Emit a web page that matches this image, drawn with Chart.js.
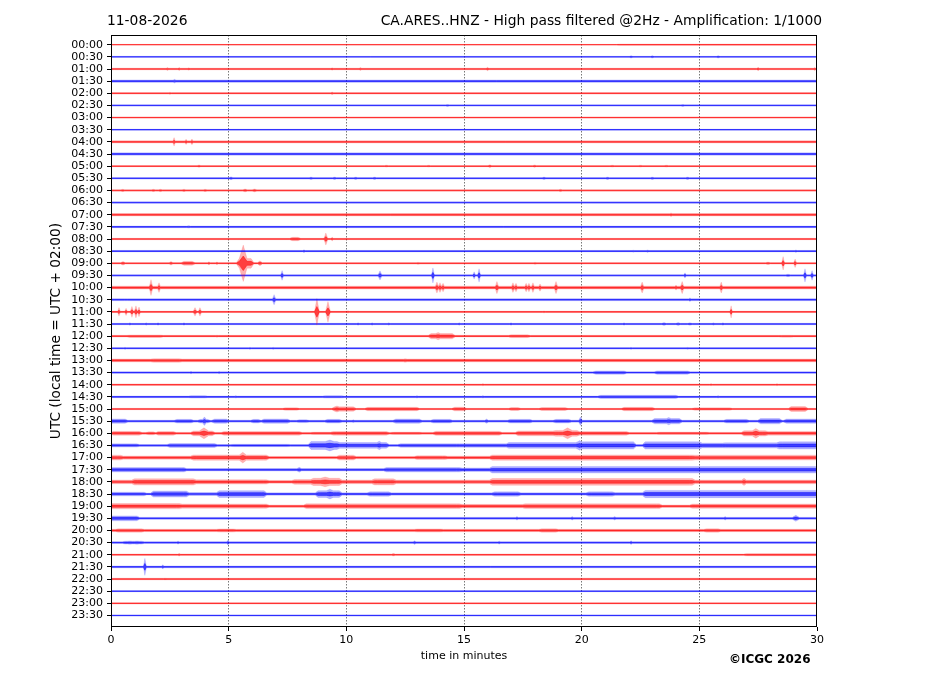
<!DOCTYPE html>
<html><head><meta charset="utf-8">
<script src="https://cdn.jsdelivr.net/npm/chart.js@4.4.1/dist/chart.umd.min.js"></script>
<style>
html,body{margin:0;padding:0;background:#fff;}
#wrap{position:relative;width:927px;height:696px;overflow:hidden;}
canvas{position:absolute;left:0;top:0;}
.t{position:absolute;font-family:"DejaVu Sans";font-size:13.85px;color:#000;white-space:nowrap;line-height:16px;}
</style></head><body>
<div id="wrap">
<canvas id="c" width="927" height="696"></canvas>
<div class="t" style="left:107px;top:12px;">11-08-2026</div>
<div class="t" style="right:105px;top:12px;">CA.ARES..HNZ - High pass filtered @2Hz - Amplification: 1/1000</div>
<div class="t" style="left:729px;top:651px;font-weight:bold;font-size:12px;">©ICGC 2026</div>
</div>
<script>
// Row labels (start time of each 30-minute trace)
const rowLabels = ["00:00","00:30","01:00","01:30","02:00","02:30","03:00","03:30","04:00","04:30","05:00","05:30",
"06:00","06:30","07:00","07:30","08:00","08:30","09:00","09:30","10:00","10:30","11:00","11:30",
"12:00","12:30","13:00","13:30","14:00","14:30","15:00","15:30","16:00","16:30","17:00","17:30",
"18:00","18:30","19:00","19:30","20:00","20:30","21:00","21:30","22:00","22:30","23:00","23:30"];
const xTicks = [0,5,10,15,20,25,30];
// Background noise half-amplitude of each trace (in row spacings)
const rowNoise = [0.03,0.045,0.07,0.1,0.06,0.05,0.045,0.04,0.09,0.1,0.05,0.06,
0.06,0.06,0.1,0.07,0.06,0.06,0.06,0.06,0.12,0.08,0.06,0.06,
0.07,0.06,0.12,0.06,0.06,0.07,0.06,0.08,0.08,0.08,0.1,0.08,
0.1,0.08,0.1,0.07,0.1,0.07,0.06,0.08,0.07,0.05,0.05,0.04];
// Noisy stretches per trace: [start minute, end minute, half-amplitude]
const rowBursts = [
[[21.6,30,0.05]],[],[],[],[],[],[],[],[],[],[],[],
[],[],[],[],[[7.7,7.95,0.14]],[],[[3.1,3.45,0.16],[5.45,5.95,0.4]],[],[],[],[],[],
[[0.8,2.1,0.1],[13.6,14.5,0.22],[17.0,17.7,0.12],[28.5,28.9,0.08]],[],[[1.8,2.9,0.15]],[[20.6,21.8,0.14],[23.2,24.5,0.14]],[],
[[3.4,4.0,0.1],[9.1,9.8,0.1],[20.8,24.0,0.13]],
[[7.4,7.9,0.1],[9.5,10.3,0.18],[10.9,13.0,0.14],[14.6,15.0,0.15],[17.0,17.3,0.12],[18.3,19.3,0.12],[21.8,23.0,0.14],[24.8,26.3,0.1],[28.9,29.5,0.2]],
[[0.03,0.6,0.18],[2.8,3.4,0.15],[3.8,4.1,0.15],[4.4,4.9,0.18],[6.05,6.26,0.15],[6.5,7.5,0.18],[8.0,8.3,0.12],[9.2,9.7,0.15],[12.1,13.1,0.18],[13.7,14.4,0.15],[16.96,17.8,0.15],[18.9,19.45,0.15],[23.1,24.15,0.22],[26.15,27.0,0.15],[27.6,28.4,0.22],[28.7,30,0.18]],
[[0.1,1.2,0.16],[1.6,1.8,0.12],[2.0,2.65,0.15],[3.5,4.3,0.2],[4.8,8.0,0.15],[8.6,9.45,0.1],[9.45,11.7,0.15],[12.0,13.1,0.1],[13.8,16.5,0.17],[17.3,18.9,0.2],[18.9,19.8,0.24],[19.8,21.9,0.15],[23.3,25.3,0.1],[26.9,27.8,0.22],[27.8,30,0.15]],
[[0,1.1,0.13],[2.5,4.4,0.16],[5.2,7.5,0.1],[8.5,9.6,0.33],[9.6,11.7,0.24],[12.3,14.8,0.15],[14.8,16.8,0.15],[16.9,20.0,0.24],[20.0,22.2,0.3],[22.7,25.0,0.3],[25.0,26.1,0.2],[26.1,28.4,0.22],[28.4,30,0.3]],
[[0,0.4,0.2],[0.4,3.5,0.13],[3.5,6.6,0.22],[6.6,9.7,0.1],[9.7,10.3,0.2],[10.3,13.0,0.1],[13.0,14.2,0.15],[14.2,16.2,0.12],[16.2,24.7,0.22],[24.7,30,0.2]],
[[0,3.1,0.18],[3.1,11.7,0.1],[11.7,14.8,0.18],[14.8,16.2,0.15],[16.2,30,0.27]],
[[0,1,0.15],[1,3.5,0.26],[3.5,6.6,0.18],[6.6,7.8,0.12],[7.8,8.6,0.2],[8.6,9.7,0.3],[9.7,11.2,0.15],[11.2,12.0,0.25],[12.0,16.2,0.15],[16.2,24.7,0.28],[24.7,30,0.15]],
[[0,1.4,0.15],[1.8,3.2,0.25],[3.2,4.6,0.12],[4.6,6.5,0.28],[6.5,8.8,0.1],[8.8,9.7,0.28],[9.7,11.0,0.1],[11.0,11.8,0.18],[11.8,16.3,0.1],[16.3,17.3,0.18],[17.3,20.3,0.1],[20.3,21.3,0.18],[21.3,22.7,0.12],[22.7,30,0.3]],
[[0,2.9,0.22],[2.9,6.6,0.18],[6.6,8.3,0.08],[8.3,14.8,0.2],[14.8,17.6,0.15],[17.6,23.3,0.2],[23.3,24.7,0.1],[24.7,30,0.18]],
[[0,1.1,0.2],[1.1,30,0.08]],
[[0.3,1.3,0.14],[4.6,5.2,0.13],[13.0,14.0,0.13],[18.3,18.9,0.14],[25.3,25.8,0.14]],
[[0.6,1.3,0.12]],[[27.0,30,0.09]],[],[],[],[],[]
];
// Transient events per trace: [minute, peak half-amplitude, half-duration in minutes]
const rowSpikes = [
[],
[[22.1,0.1,0.08],[23.0,0.1,0.08],[25.8,0.1,0.08]],
[[2.4,0.12,0.06],[2.9,0.12,0.06],[3.3,0.1,0.06],[9.4,0.1,0.06],[10.6,0.12,0.06],[16.0,0.14,0.06],[27.5,0.14,0.06],[29.9,0.12,0.06]],
[[2.7,0.15,0.06]],
[[2.5,0.08,0.06],[9.4,0.1,0.06]],
[[14.3,0.08,0.08],[24.3,0.08,0.08]],
[],[],
[[2.68,0.35,0.05],[3.19,0.22,0.05],[3.44,0.24,0.05]],
[],
[[3.74,0.1,0.08],[11.7,0.08,0.08],[13.5,0.08,0.08],[16.1,0.12,0.08],[18.0,0.1,0.08],[21.3,0.08,0.1],[22.5,0.08,0.1],[23.6,0.08,0.1]],
[[5.1,0.12,0.08],[8.5,0.1,0.08],[9.5,0.1,0.08],[10.4,0.1,0.08],[11.2,0.1,0.08],[18.4,0.1,0.08],[21.1,0.1,0.08],[23.0,0.1,0.08],[24.5,0.1,0.08]],
[[0.5,0.1,0.08],[1.8,0.1,0.08],[2.1,0.1,0.08],[3.1,0.1,0.08],[4.0,0.1,0.08],[5.7,0.12,0.1],[6.1,0.12,0.1],[19.1,0.1,0.08]],
[],
[[23.8,0.14,0.06]],
[[3.3,0.1,0.08]],
[[9.13,0.5,0.08],[9.4,0.15,0.06]],
[[8.2,0.12,0.05],[22.2,0.08,0.06],[22.8,0.1,0.06],[29.1,0.1,0.06]],
[[0.51,0.15,0.1],[2.55,0.15,0.08],[4.16,0.12,0.06],[4.5,0.1,0.06],[5.62,1.5,0.16],[6.33,0.2,0.1],[13.05,0.08,0.08],[18.02,0.08,0.08],[27.92,0.1,0.1],[28.56,0.55,0.06],[29.07,0.35,0.06]],
[[7.27,0.4,0.06],[11.43,0.38,0.08],[13.68,0.62,0.06],[15.43,0.3,0.06],[15.64,0.55,0.06],[24.39,0.22,0.05],[28.77,0.1,0.1],[29.49,0.55,0.06],[29.79,0.4,0.06]],
[[1.70,0.65,0.07],[2.04,0.4,0.06],[13.85,0.45,0.07],[13.98,0.4,0.06],[14.11,0.35,0.06],[16.40,0.5,0.07],[17.08,0.4,0.06],[17.21,0.35,0.06],[17.64,0.35,0.06],[17.76,0.35,0.06],[17.93,0.4,0.06],[18.23,0.3,0.06],[18.91,0.5,0.07],[22.57,0.45,0.07],[24.01,0.2,0.06],[24.27,0.5,0.07],[25.93,0.45,0.06]],
[[0.64,0.08,0.06],[6.93,0.42,0.07],[24.6,0.15,0.05]],
[[0.34,0.35,0.06],[0.64,0.3,0.06],[0.89,0.45,0.07],[1.06,0.5,0.07],[1.19,0.4,0.06],[3.57,0.35,0.08],[3.78,0.35,0.07],[8.75,1.1,0.1],[9.22,0.85,0.1],[10.07,0.1,0.06],[18.4,0.08,0.06],[26.35,0.5,0.05]],
[[0.8,0.1,0.06],[1.5,0.1,0.06],[2.0,0.1,0.06],[3.1,0.1,0.06],[10.5,0.1,0.06],[11.1,0.1,0.06],[11.8,0.1,0.06],[14.8,0.1,0.06],[17.0,0.1,0.06],[21.8,0.1,0.06],[23.5,0.12,0.1],[24.1,0.12,0.1],[24.6,0.1,0.1],[25.6,0.1,0.06],[26.0,0.1,0.06]],
[[4.5,0.08,0.06],[13.9,0.3,0.1]],
[[0.6,0.08,0.06],[5.9,0.08,0.06],[6.9,0.08,0.06],[22.1,0.08,0.06],[24.5,0.08,0.06]],
[[12.5,0.15,0.08]],
[[3.4,0.1,0.06],[4.6,0.1,0.06]],
[[15.8,0.08,0.06],[25.5,0.08,0.06],[28.3,0.08,0.06]],
[[5.3,0.1,0.06],[13.0,0.1,0.06],[15.8,0.1,0.06],[25.8,0.1,0.06]],
[[9.6,0.25,0.1]],
[[3.97,0.35,0.08],[10.3,0.12,0.06],[15.96,0.18,0.08],[19.95,0.35,0.08],[23.7,0.3,0.1]],
[[3.95,0.45,0.2],[19.4,0.45,0.2],[27.4,0.4,0.15]],
[[9.3,0.45,0.2],[11.4,0.35,0.1],[19.9,0.4,0.15]],
[[5.6,0.45,0.15]],
[[8.0,0.2,0.1]],
[[9.1,0.4,0.2],[26.9,0.3,0.1]],
[[9.3,0.4,0.15]],
[],
[[17.25,0.14,0.06],[19.6,0.14,0.06],[21.4,0.14,0.06],[26.1,0.14,0.06],[29.1,0.25,0.15]],
[],
[[0.8,0.14,0.1],[1.1,0.14,0.1],[2.85,0.12,0.06],[4.97,0.2,0.06],[12.9,0.15,0.06],[16.5,0.12,0.06],[22.1,0.15,0.06]],
[[2.9,0.1,0.06],[12.0,0.1,0.08]],
[[1.44,0.7,0.06],[2.2,0.18,0.05]],
[[2.3,0.08,0.08]],
[],[],[]
];
const traceColors = ["#ff0000","#0000ff"];
const outerFills = ["rgba(255,0,0,0.3)","rgba(0,0,255,0.3)"];
const innerFills = ["rgba(255,0,0,0.65)","rgba(0,0,255,0.65)"];

function envelope(r){
  const ramp = 0.12;
  const xs = new Set([0,30]);
  rowBursts[r].forEach(([s,e]) => { xs.add(s); xs.add(e); xs.add(Math.max(0,s-ramp)); xs.add(Math.min(30,e+ramp)); });
  rowSpikes[r].forEach(([m,a,w]) => { xs.add(Math.max(0,m-w)); xs.add(m); xs.add(Math.min(30,m+w)); });
  return [...xs].sort((a,b)=>a-b).map(x => {
    let a = rowNoise[r];
    rowBursts[r].forEach(([s,e,v]) => { if (x>=s && x<=e) a = Math.max(a,v); });
    rowSpikes[r].forEach(([m,v,w]) => { const d = Math.abs(x-m); if (d<w) a = Math.max(a, v*(1-d/w)); });
    return {x, a};
  });
}

const datasets = [];
rowLabels.forEach((lab, r) => {
  const env = envelope(r);
  const c = traceColors[r%2];
  datasets.push({label: lab+" outer up", data: env.map(p=>({x:p.x, y:r-p.a})), borderColor:outerFills[r%2], borderWidth:0.4,
    backgroundColor: outerFills[r%2], fill:'+1', pointRadius:0, tension:0});
  datasets.push({label: lab+" outer down", data: env.map(p=>({x:p.x, y:r+p.a})), borderColor:outerFills[r%2], borderWidth:0.4,
    fill:false, pointRadius:0, tension:0});
  datasets.push({label: lab+" core up", data: env.map(p=>({x:p.x, y:r-p.a*0.4})), borderColor:c, borderWidth:0.45,
    backgroundColor: innerFills[r%2], fill:'+1', pointRadius:0, tension:0});
  datasets.push({label: lab+" core down", data: env.map(p=>({x:p.x, y:r+p.a*0.4})), borderColor:c, borderWidth:0.45,
    fill:false, pointRadius:0, tension:0});
});

const framePlugin = {
  id:'frame',
  afterDraw(chart){
    const {ctx, chartArea:a} = chart;
    ctx.save(); ctx.strokeStyle='#000'; ctx.lineWidth=1;
    ctx.strokeRect(Math.round(a.left)+0.5, Math.round(a.top)+0.5, Math.round(a.right-a.left)-1, Math.round(a.bottom-a.top)-1);
    ctx.restore();
  }
};

new Chart(document.getElementById('c'), {
  type:'line',
  data:{datasets},
  plugins:[framePlugin],
  options:{
    responsive:false, animation:false, events:[],
    layout:{padding:{left:44,right:110,top:35,bottom:29}},
    plugins:{legend:{display:false}, tooltip:{enabled:false}},
    scales:{
      x:{type:'linear', min:0, max:30,
        afterFit(s){ s.height = 40; },
        afterBuildTicks(s){ s.ticks = xTicks.map(v=>({value:v})); },
        ticks:{color:'#000', font:{family:'DejaVu Sans', size:11}, padding:3, maxRotation:0},
        grid:{color:(ctx)=> (ctx.tick && (ctx.tick.value===0 || ctx.tick.value===30)) ? 'rgba(0,0,0,0)' : '#555',
          lineWidth:0.8, tickColor:'#000', tickLength:4, tickWidth:1, tickBorderDash:[]},
        border:{display:false, dash:[1.5,1.5]},
        title:{display:true, text:'time in minutes', color:'#000', font:{family:'DejaVu Sans', size:11}, padding:{top:4,bottom:4}}
      },
      y:{type:'linear', reverse:true, min:-0.8, max:47.95,
        afterFit(s){ s.width = 67; },
        afterBuildTicks(s){ s.ticks = rowLabels.map((_,i)=>({value:i})); },
        ticks:{color:'#000', font:{family:'DejaVu Sans', size:11}, padding:4, autoSkip:false,
          callback:(v,i)=>rowLabels[i]},
        grid:{drawOnChartArea:false, tickColor:'#000', tickLength:4, tickWidth:1},
        border:{display:false},
        title:{display:true, text:'UTC (local time = UTC + 02:00)', color:'#000', font:{family:'DejaVu Sans', size:13.7}, padding:{top:4,bottom:4}}
      }
    }
  }
});
</script>
</body></html>
